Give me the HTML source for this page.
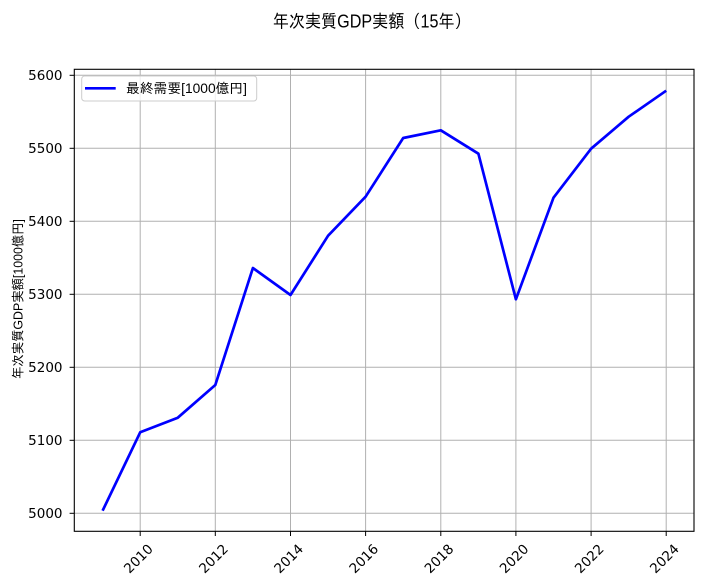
<!DOCTYPE html>
<html>
<head>
<meta charset="utf-8">
<style>
  html, body { margin: 0; padding: 0; background: #ffffff; }
  svg { display: block; }
  .tick { font-family: "DejaVu Sans", "Liberation Sans", sans-serif; font-size: 13.5px; fill: #000; }
  .cjk { font-family: "Liberation Sans", "IPAGothic", "Noto Sans CJK JP", sans-serif; fill: #000; }
</style>
</head>
<body>
<svg width="703" height="586" viewBox="0 0 703 586" xmlns="http://www.w3.org/2000/svg">
  <rect x="0" y="0" width="703" height="586" fill="#ffffff"/>

  <!-- Title -->
  <text class="cjk" x="371.7" y="27.5" font-size="18" text-anchor="middle" textLength="198" lengthAdjust="spacingAndGlyphs">年次実質GDP実額（15年）</text>

  <!-- Grid lines -->
  <g stroke="#b0b0b0" stroke-width="1" fill="none">
    <line x1="140.2" y1="69.3" x2="140.2" y2="531.3"/>
    <line x1="215.3" y1="69.3" x2="215.3" y2="531.3"/>
    <line x1="290.5" y1="69.3" x2="290.5" y2="531.3"/>
    <line x1="365.6" y1="69.3" x2="365.6" y2="531.3"/>
    <line x1="440.8" y1="69.3" x2="440.8" y2="531.3"/>
    <line x1="515.9" y1="69.3" x2="515.9" y2="531.3"/>
    <line x1="591.1" y1="69.3" x2="591.1" y2="531.3"/>
    <line x1="666.2" y1="69.3" x2="666.2" y2="531.3"/>

    <line x1="74.3" y1="513.3" x2="694" y2="513.3"/>
    <line x1="74.3" y1="440.3" x2="694" y2="440.3"/>
    <line x1="74.3" y1="367.3" x2="694" y2="367.3"/>
    <line x1="74.3" y1="294.3" x2="694" y2="294.3"/>
    <line x1="74.3" y1="221.3" x2="694" y2="221.3"/>
    <line x1="74.3" y1="148.3" x2="694" y2="148.3"/>
    <line x1="74.3" y1="75.3" x2="694" y2="75.3"/>
  </g>

  <!-- Data line -->
  <polyline fill="none" stroke="#0000ff" stroke-width="2.7" stroke-linejoin="round" stroke-linecap="butt"
    points="102.6,510.7 140.2,432.3 177.8,417.7 215.3,385 252.9,268 290.5,295 328.1,235.7 365.6,196.7 403.2,138 440.8,130.3 478.4,153.7 515.9,299.3 553.5,197.7 591.1,148.7 628.7,116.7 666.2,90.7"/>

  <!-- Axes frame -->
  <rect x="74.3" y="69.3" width="619.7" height="462" fill="none" stroke="#000" stroke-width="1.1"/>

  <!-- Y ticks -->
  <g stroke="#000" stroke-width="1">
    <line x1="69.6" y1="513.3" x2="74.3" y2="513.3"/>
    <line x1="69.6" y1="440.3" x2="74.3" y2="440.3"/>
    <line x1="69.6" y1="367.3" x2="74.3" y2="367.3"/>
    <line x1="69.6" y1="294.3" x2="74.3" y2="294.3"/>
    <line x1="69.6" y1="221.3" x2="74.3" y2="221.3"/>
    <line x1="69.6" y1="148.3" x2="74.3" y2="148.3"/>
    <line x1="69.6" y1="75.3" x2="74.3" y2="75.3"/>
  </g>
  <g class="tick" text-anchor="end">
    <text x="62.5" y="518.2">5000</text>
    <text x="62.5" y="445.2">5100</text>
    <text x="62.5" y="372.2">5200</text>
    <text x="62.5" y="299.2">5300</text>
    <text x="62.5" y="226.2">5400</text>
    <text x="62.5" y="153.2">5500</text>
    <text x="62.5" y="80.2">5600</text>
  </g>

  <!-- X ticks -->
  <g stroke="#000" stroke-width="1">
    <line x1="140.2" y1="531.3" x2="140.2" y2="536"/>
    <line x1="215.3" y1="531.3" x2="215.3" y2="536"/>
    <line x1="290.5" y1="531.3" x2="290.5" y2="536"/>
    <line x1="365.6" y1="531.3" x2="365.6" y2="536"/>
    <line x1="440.8" y1="531.3" x2="440.8" y2="536"/>
    <line x1="515.9" y1="531.3" x2="515.9" y2="536"/>
    <line x1="591.1" y1="531.3" x2="591.1" y2="536"/>
    <line x1="666.2" y1="531.3" x2="666.2" y2="536"/>
  </g>
  <g class="tick" text-anchor="middle">
    <text transform="translate(138.2,558.5) rotate(-45)" dy="0.36em">2010</text>
    <text transform="translate(213.3,558.5) rotate(-45)" dy="0.36em">2012</text>
    <text transform="translate(288.5,558.5) rotate(-45)" dy="0.36em">2014</text>
    <text transform="translate(363.6,558.5) rotate(-45)" dy="0.36em">2016</text>
    <text transform="translate(438.8,558.5) rotate(-45)" dy="0.36em">2018</text>
    <text transform="translate(513.9,558.5) rotate(-45)" dy="0.36em">2020</text>
    <text transform="translate(589.1,558.5) rotate(-45)" dy="0.36em">2022</text>
    <text transform="translate(664.2,558.5) rotate(-45)" dy="0.36em">2024</text>
  </g>

  <!-- Y label -->
  <text class="cjk" font-size="13" text-anchor="middle" transform="translate(22.5,299) rotate(-90)" textLength="160" lengthAdjust="spacingAndGlyphs">年次実質GDP実額[1000億円]</text>

  <!-- Legend -->
  <rect x="81.7" y="76" width="175" height="25" rx="3" ry="3" fill="#ffffff" fill-opacity="0.8" stroke="#cccccc" stroke-width="1"/>
  <line x1="85" y1="88.3" x2="115.7" y2="88.3" stroke="#0000ff" stroke-width="2.7"/>
  <text class="cjk" x="126" y="93.2" font-size="13.4" textLength="121" lengthAdjust="spacingAndGlyphs">最終需要[1000億円]</text>
</svg>
</body>
</html>
